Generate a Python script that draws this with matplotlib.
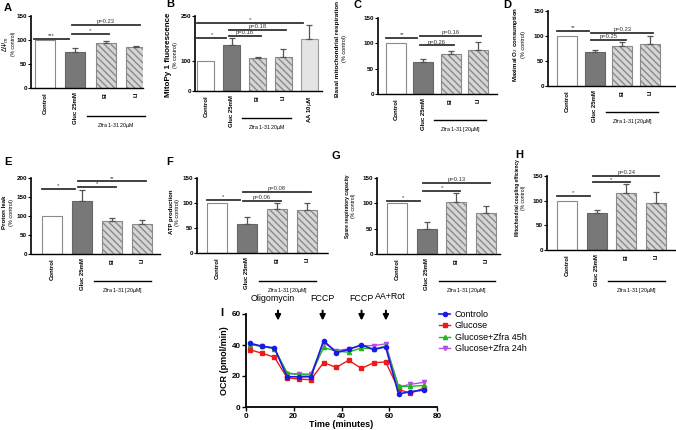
import matplotlib
matplotlib.use('Agg')
import matplotlib.pyplot as plt
from matplotlib.transforms import blended_transform_factory

plt.rcParams['font.family'] = ['Liberation Sans', 'DejaVu Sans']
plt.rcParams['hatch.linewidth'] = 1.0

# ---- data ----
groups = ['Control', 'Gluc 25mM', 'EI', 'LI']
groups_b = groups + ['AA 10$\\mu$M']

a_mean = [100, 76, 93, 85]
a_err = [0, 7, 4, 2]
b_mean = [100, 153, 110, 114, 174]
b_err = [0, 25, 2, 25, 47]
c_mean = [100, 64, 78, 86]
c_err = [0, 6, 6, 16]
d_mean = [100, 68, 81, 85]
d_err = [0, 5, 8, 15]
e_mean = [100, 139, 86, 79]
e_err = [0, 29, 10, 10]
f_mean = [100, 58, 88, 86]
f_err = [0, 14, 12, 14]
g_mean = [100, 49, 103, 81]
g_err = [0, 14, 17, 13]
h_mean = [100, 75, 116, 95]
h_err = [0, 7, 17, 22]

# significance bars: (from, to, height, text)
a_sig = [(0, 1, 102, '***'), (1, 2, 112, '*'), (1, 3, 131, 'p=0.23')]
b_sig = [(0, 4, 227, '*'), (0, 1, 178, '*'), (1, 3, 203, 'p=0.18'), (1, 2, 183, 'p=0.16')]
c_sig = [(0, 1, 110, '**'), (1, 3, 115, 'p=0.16'), (1, 2, 96, 'p=0.26')]
d_sig = [(0, 1, 110, '**'), (1, 3, 107, 'p=0.23'), (1, 2, 93, 'p=0.25')]
e_sig = [(0, 1, 172, '*'), (1, 3, 191, '**'), (1, 2, 176, '*')]
f_sig = [(0, 1, 107, '*'), (1, 2, 105, 'p=0.06'), (1, 3, 122, 'p=0.08')]
g_sig = [(0, 1, 105, '*'), (1, 2, 124, '*'), (1, 3, 140, 'p=0.13')]
h_sig = [(0, 1, 109, '*'), (1, 2, 137, '*'), (1, 3, 151, 'p=0.24')]

# OCR time course
time_min = [1.7, 6.7, 11.9, 17.2, 22.2, 27.2, 32.5, 37.8, 43, 48.3, 53.5, 58.5, 63.9, 68.8, 74.4]
ocr_ctrl = [41.1, 39.2, 38.1, 19.5, 19.5, 19.5, 42.9, 35.1, 37.1, 40.1, 37.1, 38.8, 8.4, 9.9, 10.9]
ocr_gluc = [36.9, 34.7, 32.1, 18.9, 18.0, 17.6, 28.7, 25.5, 30.2, 24.9, 28.5, 29.1, 11.4, 8.8, 12.2]
ocr_z45 = [40.3, 39.2, 37.7, 22.1, 20.8, 20.6, 38.4, 36.0, 35.4, 38.1, 37.5, 39.2, 13.3, 13.3, 13.9]
ocr_z24 = [40.3, 39.2, 37.7, 21.4, 21.4, 21.2, 41.4, 36.4, 37.5, 39.6, 39.6, 40.7, 12.9, 14.6, 15.9]
inj_names = ['Oligomycin', 'FCCP', 'FCCP', 'AA+Rot']
inj_times = [13.4, 32.1, 48.4, 58.6]

W, H = 676, 430
fig = plt.figure(figsize=(W / 100, H / 100), dpi=100)


def px_axes(l, t, r, b):
    return fig.add_axes([l / W, 1 - b / H, (r - l) / W, (b - t) / H])


def ftext(x, y, s, **kw):
    fig.text(x / W, 1 - y / H, s, **kw)


bar_styles = [dict(color='white', edgecolor='#8a8a8a'),
              dict(color='#787878', edgecolor='#666666'),
              dict(color='#d6d6d6', edgecolor='#8a8a8a', hatch='\\\\\\\\\\'),
              dict(color='#d6d6d6', edgecolor='#8a8a8a', hatch='\\\\\\\\\\'),
              dict(color='#e4e4e4', edgecolor='#9a9a9a')]


def bar_panel(box, c0, step, wpx, labels, mean, err, ymax, yticks, sigs,
              zfra, zfra_y, dotted=True):
    l, t, r, b = box
    ax = px_axes(l, t, r, b)
    xs = list(range(len(mean)))
    for i in xs:
        ax.bar(i, mean[i], width=wpx / step, linewidth=0.8, zorder=2, **bar_styles[i])
        if err[i] > 0:
            ax.errorbar(i, mean[i], yerr=[[0], [err[i]]], color='#555555',
                        capsize=2.5, elinewidth=0.9, capthick=0.9, zorder=3)
    ax.set_xlim((l - c0) / step, (r - c0) / step)
    ax.set_ylim(0, ymax)
    ax.set_yticks(yticks)
    ax.set_xticks(xs)
    ax.set_xticklabels(labels, rotation=90, fontsize=4.3, fontweight='bold')
    for lab in ax.get_yticklabels():
        lab.set_fontweight('bold')
    ax.tick_params(axis='y', labelsize=4.5, length=2, width=0.8, pad=1)
    ax.tick_params(axis='x', length=0, pad=3)
    for s in ['top', 'right']:
        ax.spines[s].set_visible(False)
    ax.spines['left'].set_linewidth(1.2)
    ax.spines['bottom'].set_linewidth(1.0)
    if dotted:
        ax.spines['bottom'].set_linestyle((0, (1.5, 1)))
    for i, j, y, txt in sigs:
        if i == 0:
            x0, x1 = i - 0.35, j - 0.22
        else:
            x0, x1 = i - 0.12, j + 0.12
        ax.plot([x0, x1], [y, y], color='#333333', lw=1.3, clip_on=False, zorder=4)
        ax.text((x0 + x1) / 2, y + ymax * 0.01, txt, ha='center', va='bottom',
                fontsize=4.2, color='#333333')
    tr = blended_transform_factory(ax.transData, ax.transAxes)
    yf = (b - zfra_y) / (b - t)
    ax.plot([1.4, 3.3], [yf, yf], color='k', lw=1.0, transform=tr, clip_on=False)
    ax.text(2.35, yf - 5 / (b - t), zfra, transform=tr, ha='center', va='top', fontsize=3.8)
    return ax


def ylab(x, y, main, sub, xs, size=4.5, sub_size=4):
    ftext(x, y, main, rotation=90, ha='center', va='center', fontsize=size, fontweight='bold')
    ftext(xs, y, sub, rotation=90, ha='center', va='center', fontsize=sub_size)


z1 = 'Zfra 1-31 20$\\mu$M'
z2 = 'Zfra 1-31 [20$\\mu$M]'

bar_panel((31, 16, 143, 88), 45, 30.3, 20, groups, a_mean, a_err, 150, [0, 50, 100, 150],
          a_sig, z1, 116, dotted=False)
bar_panel((195, 16, 322, 91), 206, 25.75, 17, groups_b, b_mean, b_err, 250, [0, 100, 250],
          b_sig, z1, 118, dotted=False)
bar_panel((378, 18, 497, 94), 396, 27.3, 20, groups, c_mean, c_err, 150, [0, 50, 100, 150],
          c_sig, z2, 120)
bar_panel((548, 11, 676, 86), 567, 27.7, 20, groups, d_mean, d_err, 150, [0, 50, 100, 150],
          d_sig, z2, 112)
bar_panel((31, 178, 160, 254), 52, 30, 20, groups, e_mean, e_err, 200, [0, 50, 100, 150, 200],
          e_sig, z2, 281)
bar_panel((197, 178, 328, 253), 217, 30, 20, groups, f_mean, f_err, 150, [0, 50, 100, 150],
          f_sig, z2, 281)
bar_panel((377, 178, 500, 254), 397, 29.7, 20, groups, g_mean, g_err, 150, [0, 50, 100, 150],
          g_sig, z2, 281)
bar_panel((547, 176, 676, 250), 567, 29.6, 20, groups, h_mean, h_err, 150, [0, 50, 100, 150],
          h_sig, z2, 281)

ylab(6, 44, '$\\Delta\\Psi_m$', '(% control)', 13, size=4.8, sub_size=3.6)
ylab(169, 55, 'MitoPy 1 fluorescence', '(% control)', 176, size=5.8, sub_size=3.8)
ylab(337, 49, 'Basal mitochondrial respiration', '(% control)', 344, size=4.6)
ylab(515, 44, 'Maximal O$_2$ consumption', '(% control)', 523, size=4.4)
ylab(5, 212, 'Proton leak', '(% control)', 12, size=4.4)
ylab(171, 212, 'ATP production', '(% control)', 178, size=4.3)
ylab(347, 206, 'Spare respiratory capacity', '(% control)', 354, size=3.6, sub_size=3.6)
ylab(517, 198, 'Mitochondrial coupling efficiency', '(% control)', 524, size=3.4, sub_size=3.6)

for letter, x, y in [('A', 8, 8), ('B', 170, 4), ('C', 358, 5), ('D', 507, 5),
                     ('E', 8, 162), ('F', 170, 162), ('G', 336, 156), ('H', 519, 155),
                     ('I', 222, 313)]:
    ftext(x, y, letter, fontsize=8, fontweight='bold', ha='center', va='center')

# ---- panel I ----
ax = px_axes(246, 314, 437, 407)
ax.plot(time_min, ocr_ctrl, '-o', color='#1a1ae6', ms=3, lw=1.2, label='Controlo', zorder=5)
ax.plot(time_min, ocr_gluc, '-s', color='#ee1b1b', ms=3, lw=1.0, label='Glucose', zorder=3)
ax.plot(time_min, ocr_z45, '-^', color='#22b522', ms=3, lw=1.0, label='Glucose+Zfra 45h', zorder=4)
ax.plot(time_min, ocr_z24, '-v', color='#b84ee8', ms=3, lw=1.0, label='Glucose+Zfra 24h', zorder=2)
ax.set_xlim(0, 80)
ax.set_ylim(0, 60)
ax.set_xticks([0, 20, 40, 60, 80])
ax.set_yticks([0, 20, 40, 60])
for s in ['top', 'right']:
    ax.spines[s].set_visible(False)
ax.spines['left'].set_linewidth(1.3)
ax.spines['bottom'].set_linewidth(1.3)
ax.tick_params(labelsize=5.8, length=3, width=1.0, pad=1)
for lab in ax.get_xticklabels() + ax.get_yticklabels():
    lab.set_fontweight('bold')
ax.set_xlabel('Time (minutes)', fontsize=6.5, fontweight='bold', labelpad=0)
ax.set_ylabel('OCR (pmol/min)', fontsize=6.5, fontweight='bold', labelpad=2)
for name, t in zip(inj_names, inj_times):
    ax.annotate('', xy=(t, 54), xytext=(t, 64), annotation_clip=False,
                arrowprops=dict(arrowstyle='-|>', color='k', lw=1.4, mutation_scale=8))
    ty = 71.5 if name == 'AA+Rot' else 70
    tx = t + 2.0 if name == 'AA+Rot' else (t - 2 if name == 'Oligomycin' else t)
    ax.text(tx, ty, name, ha='center', va='center', fontsize=6.4, clip_on=False)
ax.legend(loc='upper left', bbox_to_anchor=(0.99, 1.08), frameon=False, fontsize=6.5,
          handlelength=1.3, handletextpad=0.5, labelspacing=0.25, borderaxespad=0)

fig.savefig('out.png', dpi=100)
